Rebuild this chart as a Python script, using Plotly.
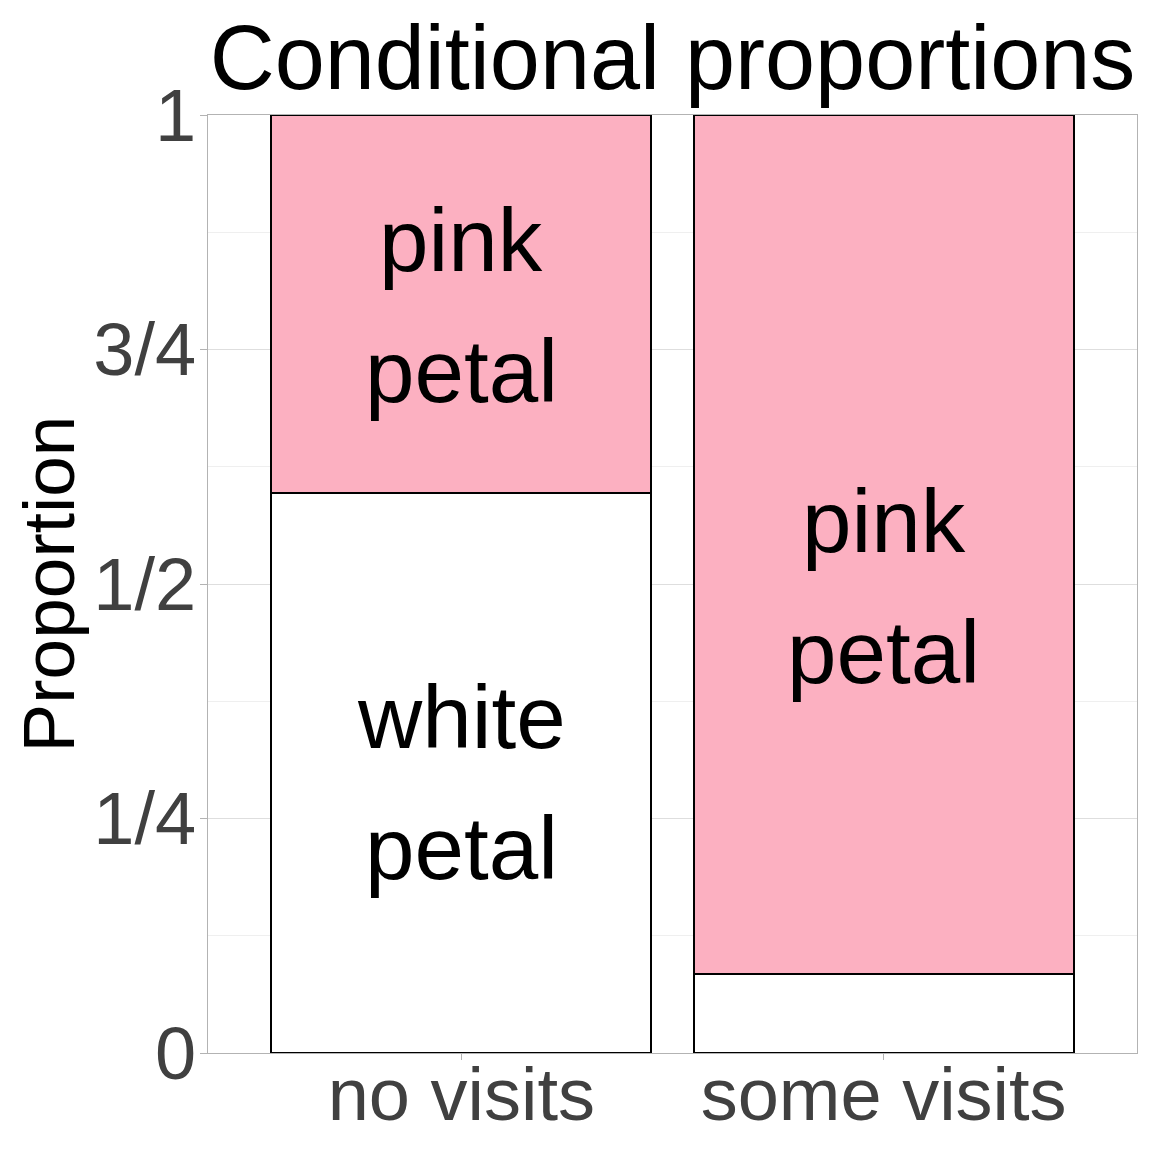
import plotly.graph_objects as go

categories = ["no visits", "some visits"]
white_prop = [0.597, 0.084]
pink_prop = [0.403, 0.916]
label_lines = [["pink", "petal"], ["white", "petal"], ["pink", "petal"]]
label_x = ["no visits", "no visits", "some visits"]
label_y = [0.797, 0.288, 0.497]
ytick_vals = [0, 0.25, 0.5, 0.75, 1]
ytick_text = ["0", "1/4", "1/2", "3/4", "1"]

FONT = "Liberation Sans, Arial, sans-serif"
LINE_GAP = 131  # px between the two text lines of a label

fig = go.Figure()
fig.add_trace(go.Bar(x=categories, y=white_prop, width=0.9,
                     marker=dict(color="white", line=dict(color="black", width=2.2)),
                     showlegend=False, hoverinfo="skip"))
fig.add_trace(go.Bar(x=categories, y=pink_prop, width=0.9,
                     marker=dict(color="#FCB0C1", line=dict(color="black", width=2.2)),
                     showlegend=False, hoverinfo="skip"))

for lines, xx, yy in zip(label_lines, label_x, label_y):
    n = len(lines)
    for i, t in enumerate(lines):
        shift = ((n - 1) / 2 - i) * LINE_GAP
        fig.add_annotation(x=xx, y=yy, text=t, showarrow=False, xref="x", yref="y",
                           yshift=shift,
                           font=dict(family=FONT, size=89, color="black"),
                           xanchor="center", yanchor="middle")

# the page body adds an 8px margin, so the figure is 1144 px and margins are offset
fig.update_layout(
    width=1144, height=1144,
    barmode="stack",
    plot_bgcolor="white", paper_bgcolor="white",
    margin=dict(l=200, r=15, t=107, b=99, autoexpand=False),
    title=dict(text="Conditional proportions", x=0.5, xref="paper", xanchor="center",
               y=0.957, yref="container", yanchor="middle",
               font=dict(family=FONT, size=90, color="black")),
    xaxis=dict(range=[-0.6, 1.6], showgrid=False, showline=True, linecolor="#B3B3B3",
               linewidth=1, mirror=True, ticks="outside", ticklen=6, tickcolor="#B3B3B3",
               automargin=False, ticklabelstandoff=-29,
               tickfont=dict(family=FONT, size=74, color="#404040"), zeroline=False),
    yaxis=dict(range=[0, 1], tickvals=ytick_vals, ticktext=ytick_text,
               showgrid=True, gridcolor="#DEDEDE", gridwidth=1,
               minor=dict(tickvals=[0.125, 0.375, 0.625, 0.875], showgrid=True,
                          gridcolor="#EFEFEF", gridwidth=1),
               showline=True, linecolor="#B3B3B3", linewidth=1, mirror=True,
               ticks="outside", ticklen=7, tickcolor="#B3B3B3", zeroline=False,
               automargin=False, ticklabelstandoff=-11,
               tickfont=dict(family=FONT, size=74, color="#404040"),
               title=dict(text="Proportion", standoff=10,
                          font=dict(family=FONT, size=73, color="black"))),
)

fig.write_html("out.html")
